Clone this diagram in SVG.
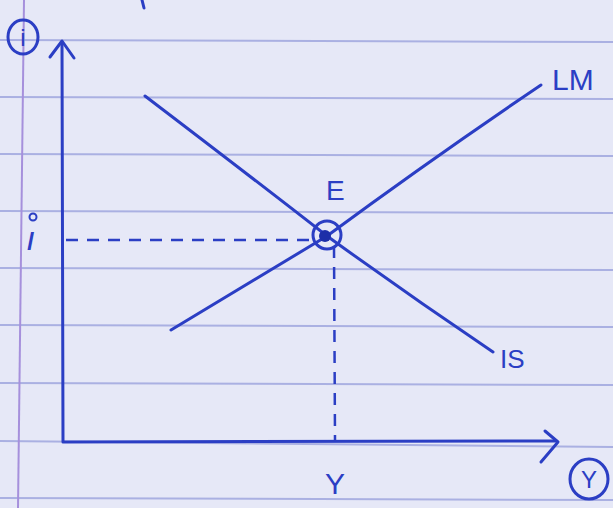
<svg xmlns="http://www.w3.org/2000/svg" width="613" height="508" viewBox="0 0 613 508">
<style>
.ink{stroke:#2b3ec4;stroke-width:3;fill:none;stroke-linecap:round;stroke-linejoin:round}
.dash{stroke:#2b3ec4;stroke-width:2.5;fill:none;stroke-dasharray:12 9}
.rule{stroke:#aab0e2;stroke-width:2}
.t{font-family:"Liberation Sans",Arial,sans-serif;fill:#2b3ec4}
</style>
<rect width="613" height="508" fill="#e6e8f7"/>
<g id="paper">
<line class="rule" x1="0" y1="40" x2="613" y2="42"/>
<line class="rule" x1="0" y1="97" x2="613" y2="99"/>
<line class="rule" x1="0" y1="154" x2="613" y2="156"/>
<line class="rule" x1="0" y1="211" x2="613" y2="213"/>
<line class="rule" x1="0" y1="268" x2="613" y2="270"/>
<line class="rule" x1="0" y1="325" x2="613" y2="327"/>
<line class="rule" x1="0" y1="383" x2="613" y2="385"/>
<line class="rule" x1="0" y1="441" x2="613" y2="447"/>
<line class="rule" x1="0" y1="498" x2="613" y2="500"/>
<line x1="24" y1="0" x2="18" y2="508" stroke="#a690dc" stroke-width="2"/>
</g>
<g id="connectors">
<path class="ink" d="M142 0 L144 8"/>
<path class="ink" d="M62 42 L63 442 L556 441"/>
<path class="ink" d="M50 57 L62 41 L74 58"/>
<path class="ink" d="M545 431 L558 442 L541 462"/>
<path class="dash" d="M66 240 L314 240"/>
<path class="dash" d="M334 246 L335 440"/>
</g>
<g id="IS">
<path class="ink" d="M145 96 Q250 176 327 236 Q410 296 493 352"/>
<text class="t" x="500" y="368" font-size="26">IS</text>
</g>
<g id="LM">
<path class="ink" d="M171 330 Q250 282 327 236 Q430 160 541 85"/>
<text class="t" x="552" y="90" font-size="30">LM</text>
</g>
<g id="E">
<circle cx="327" cy="235" r="14" class="ink"/>
<circle cx="325" cy="236" r="6" fill="#1d2fa8"/>
<text class="t" x="326" y="200" font-size="28">E</text>
</g>
<g id="i-label">
<text class="t" x="26" y="250" font-size="34" font-style="italic">ı</text>
<circle cx="33" cy="217" r="3.5" fill="none" stroke="#2b3ec4" stroke-width="2"/>
</g>
<g id="axis-i">
<ellipse cx="23" cy="37" rx="15" ry="17" class="ink" stroke-width="2.5"/>
<text class="t" x="23" y="46" font-size="24" text-anchor="middle">i</text>
</g>
<g id="Y-label">
<text class="t" x="335" y="494" font-size="30" text-anchor="middle">Y</text>
</g>
<g id="axis-Y">
<ellipse cx="589" cy="479" rx="19" ry="20" class="ink" stroke-width="2.5"/>
<text class="t" x="589" y="488" font-size="24" text-anchor="middle">Y</text>
</g>
</svg>
